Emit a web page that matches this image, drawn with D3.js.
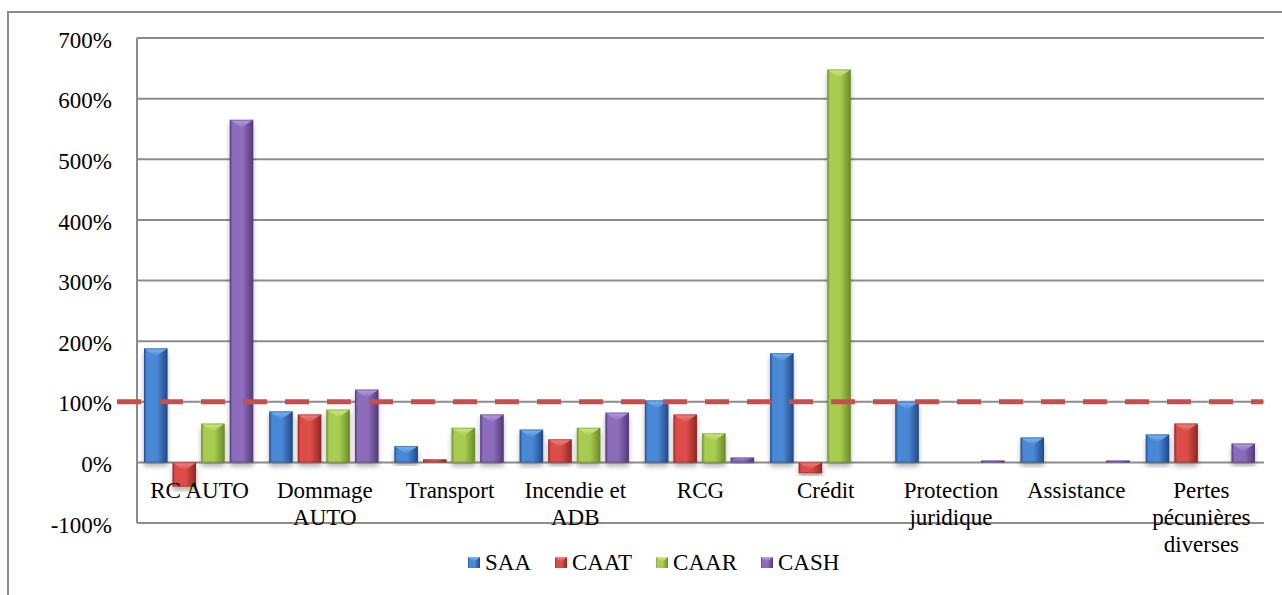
<!DOCTYPE html>
<html>
<head>
<meta charset="utf-8">
<script src="https://cdn.jsdelivr.net/npm/d3@7"></script>
<style>
  html, body { margin: 0; padding: 0; background: #ffffff; }
  svg { display: block; }
</style>
</head>
<body>
<script>
// Loss ratio by branch and insurer
const categories = ["RC AUTO", "Dommage AUTO", "Transport", "Incendie et ADB", "RCG",
                    "Crédit", "Protection juridique", "Assistance", "Pertes pécunières diverses"];
const seriesNames = ["SAA", "CAAT", "CAAR", "CASH"];
const saaValues  = [188, 84, 27, 54, 102, 180, 100, 41, 46];
const caatValues = [-40, 79, 5, 38, 79, -18, null, null, 64];
const caarValues = [64, 87, 57, 57, 48, 648, null, null, null];
const cashValues = [565, 120, 79, 82, 8, null, 3, 3, 31];
const tickValues = [-100, 0, 100, 200, 300, 400, 500, 600, 700];
const tickLabels = ["-100%", "0%", "100%", "200%", "300%", "400%", "500%", "600%", "700%"];
const referenceLevel = 100;

const seriesValues = [saaValues, caatValues, caarValues, cashValues];

const FONT = '"Liberation Serif"';
const FONT_SIZE = 23;

// fill shades per series: edge, centre, far edge, bevel highlight
const palette = {
  SAA:  { edge: "#28569a", mid: "#4a88d4", far: "#21498a", top: "#7fbaf5" },
  CAAT: { edge: "#a5302c", mid: "#dc4d48", far: "#922623", top: "#f08a86" },
  CAAR: { edge: "#7a9c32", mid: "#a8cc50", far: "#6b8a2a", top: "#d0ec8a" },
  CASH: { edge: "#5c4384", mid: "#8d6dbb", far: "#523a78", top: "#bca2e8" }
};

const W = 1282, H = 595;
const plot = { left: 137, right: 1264, top: 38, bottom: 523 };

function serif(sel) {
  return sel.style("font-family", FONT).style("font-size", FONT_SIZE + "px").attr("fill", "#000");
}

const svg = d3.select("body").append("svg").attr("width", W).attr("height", H);
const defs = svg.append("defs");

seriesNames.forEach(s => {
  const c = palette[s];
  const g = defs.append("linearGradient").attr("id", "fill-" + s)
    .attr("x1", "0%").attr("x2", "100%").attr("y1", "0%").attr("y2", "0%");
  g.append("stop").attr("offset", "0%").attr("stop-color", c.edge);
  g.append("stop").attr("offset", "12%").attr("stop-color", c.mid);
  g.append("stop").attr("offset", "55%").attr("stop-color", c.mid);
  g.append("stop").attr("offset", "100%").attr("stop-color", c.far);
  const t = defs.append("linearGradient").attr("id", "top-" + s)
    .attr("x1", "0%").attr("x2", "0%").attr("y1", "0%").attr("y2", "100%");
  t.append("stop").attr("offset", "0%").attr("stop-color", c.top);
  t.append("stop").attr("offset", "100%").attr("stop-color", c.mid);
});

const shadow = defs.append("filter").attr("id", "bar-shadow")
  .attr("x", "-30%").attr("y", "-10%").attr("width", "160%").attr("height", "130%");
shadow.append("feDropShadow").attr("dx", 0).attr("dy", 4).attr("stdDeviation", 2.5)
  .attr("flood-color", "#000").attr("flood-opacity", 0.3);

// outer chart frame
svg.append("rect").attr("x", 8).attr("y", 12).attr("width", 1300).attr("height", 620)
  .attr("fill", "none").attr("stroke", "#8c8c8c").attr("stroke-width", 2);

const y = d3.scaleLinear().domain([-100, 700]).range([plot.bottom, plot.top]);
const x0 = d3.scaleBand().domain(categories).range([plot.left, plot.right]).padding(0);
const x1 = d3.scaleBand().domain(seriesNames).range([7, x0.bandwidth() - 9]).paddingInner(0.18);

// horizontal gridlines
svg.append("g").selectAll("line").data(tickValues).join("line")
  .attr("x1", plot.left).attr("x2", plot.right)
  .attr("y1", d => y(d)).attr("y2", d => y(d))
  .attr("stroke", "#8c8c8c").attr("stroke-width", 2);

// value axis line
svg.append("line").attr("x1", plot.left).attr("x2", plot.left)
  .attr("y1", plot.top).attr("y2", plot.bottom)
  .attr("stroke", "#8c8c8c").attr("stroke-width", 2);

// value axis labels
const yAxis = d3.axisLeft(y).tickValues(tickValues)
  .tickFormat((d, i) => tickLabels[i]).tickSize(0).tickPadding(25);
const yAxisG = svg.append("g").attr("transform", `translate(${plot.left},0)`).call(yAxis);
yAxisG.select(".domain").remove();
serif(yAxisG.selectAll("text")).attr("dy", "0.4em");

// bars
const barData = [];
categories.forEach((cat, ci) => {
  seriesNames.forEach((s, si) => {
    const v = seriesValues[si][ci];
    if (v !== null && v !== undefined) barData.push({ cat, s, v });
  });
});

const bars = svg.append("g").selectAll("g").data(barData).join("g");
bars.each(function (d) {
  const g = d3.select(this);
  const bx = x0(d.cat) + x1(d.s);
  const bw = x1.bandwidth();
  const top = y(Math.max(d.v, 0));
  const bot = y(Math.min(d.v, 0));
  const h = Math.max(bot - top, 1);
  g.append("rect").attr("x", bx).attr("y", top).attr("width", bw).attr("height", h)
    .attr("fill", `url(#fill-${d.s})`).attr("filter", "url(#bar-shadow)");
  const depth = Math.min(8, h * 0.6);
  g.append("path")
    .attr("d", `M${bx},${top}L${bx + bw},${top}L${bx + bw / 2},${top + depth}Z`)
    .attr("fill", `url(#top-${d.s})`).attr("opacity", 0.95);
  g.append("rect").attr("x", bx + 0.5).attr("y", top + 0.5)
    .attr("width", bw - 1).attr("height", Math.max(h - 1, 0.5))
    .attr("fill", "none").attr("stroke", palette[d.s].far).attr("stroke-opacity", 0.5)
    .attr("stroke-width", 1);
});

// reference level at 100 %
svg.append("line")
  .attr("x1", plot.left - 20).attr("x2", plot.right - 1)
  .attr("y1", y(referenceLevel)).attr("y2", y(referenceLevel))
  .attr("stroke", "#c4504d").attr("stroke-width", 5)
  .attr("stroke-dasharray", "24 18");

// category labels, wrapped to the category width
const catG = svg.append("g");
categories.forEach(cat => {
  const cx = x0(cat) + x0.bandwidth() / 2;
  const t = serif(catG.append("text")).attr("text-anchor", "middle");
  const words = cat.split(" ");
  const maxW = x0.bandwidth() - 4;
  let lines = [], line = [];
  const probe = serif(catG.append("text")).attr("visibility", "hidden");
  words.forEach(w => {
    const test = line.concat([w]).join(" ");
    probe.text(test);
    if (line.length && probe.node().getComputedTextLength() > maxW) {
      lines.push(line.join(" "));
      line = [w];
    } else {
      line.push(w);
    }
  });
  lines.push(line.join(" "));
  probe.remove();
  lines.forEach((ln, i) => {
    t.append("tspan").attr("x", cx).attr("y", y(0) + 36 + i * 27).text(ln);
  });
});

// legend
const legend = svg.append("g").attr("transform", "translate(468,0)");
let lx = 0;
seriesNames.forEach(s => {
  const item = legend.append("g").attr("transform", `translate(${lx},0)`);
  item.append("rect").attr("x", 0).attr("y", 557).attr("width", 12).attr("height", 11)
    .attr("fill", `url(#fill-${s})`);
  item.append("path").attr("d", "M0,557L12,557L6,562Z").attr("fill", `url(#top-${s})`);
  const tx = serif(item.append("text")).attr("x", 17).attr("y", 569.5).text(s);
  lx += 17 + tx.node().getComputedTextLength() + 24;
});
</script>
</body>
</html>
